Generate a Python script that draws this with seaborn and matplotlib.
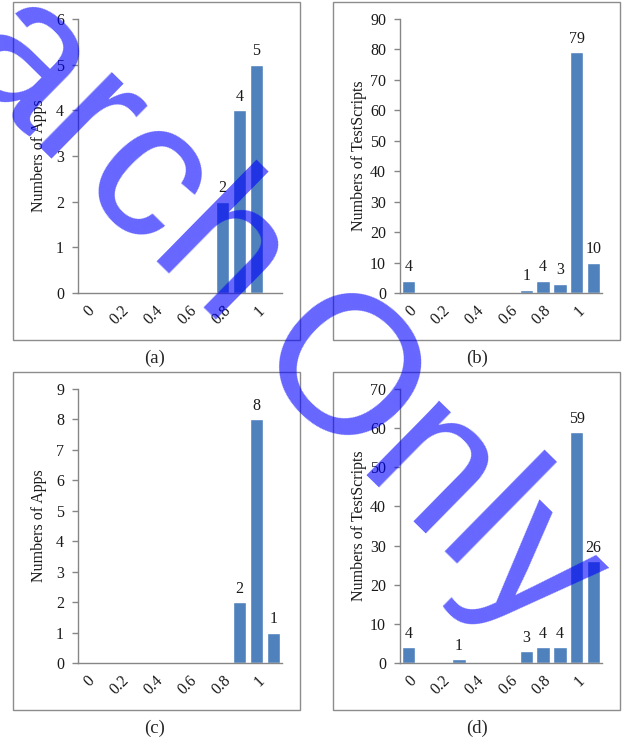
import matplotlib
matplotlib.use('Agg')
import matplotlib.pyplot as plt
import seaborn as sns
from matplotlib.patches import Rectangle

sns.set_style('white')
plt.rcParams['font.family'] = ['Liberation Serif', 'DejaVu Serif']

# categories of the histogram (one label shown every other bin)
categories = ['0', '0.1', '0.2', '0.3', '0.4', '0.5', '0.6', '0.7', '0.8', '0.9', '1', '1.1']
tick_labels = ['0', '', '0.2', '', '0.4', '', '0.6', '', '0.8', '', '1', '']

apps_a = [0, 0, 0, 0, 0, 0, 0, 0, 2, 4, 5, 0]
scripts_b = [4, 0, 0, 0, 0, 0, 0, 1, 4, 3, 79, 10]
apps_c = [0, 0, 0, 0, 0, 0, 0, 0, 0, 2, 8, 1]
scripts_d = [4, 0, 0, 1, 0, 0, 0, 3, 4, 4, 59, 26]

bar_col = '#4F81BD'
axis_col = '#868686'
txt_col = '#1a1a1a'
fs = 11.5
W, H = 622, 740

fig = plt.figure(figsize=(W / 100, H / 100), dpi=100)

# (values, ylabel, ymax, ystep, axes px box [left, top, right, bottom], frame px box, caption, caption px)
panels = [
    (apps_a, 'Numbers of Apps', 6, 1, [78, 19, 282, 293], [13, 2, 300, 340], '(a)', (155, 358)),
    (scripts_b, 'Numbers of TestScripts', 90, 10, [400, 19, 602, 293], [333, 2, 620, 340], '(b)', (477, 358)),
    (apps_c, 'Numbers of Apps', 9, 1, [78, 389, 282, 663], [13, 372, 300, 710], '(c)', (155, 728)),
    (scripts_d, 'Numbers of TestScripts', 70, 10, [400, 389, 602, 663], [333, 372, 620, 710], '(d)', (477, 728)),
]

for vals, ylab, ymax, ystep, box, frame, cap, cpos in panels:
    l, t, r, b = box
    ax = fig.add_axes([l / W, 1 - b / H, (r - l) / W, (b - t) / H])
    sns.barplot(x=categories, y=vals, color=bar_col, saturation=1, width=0.8, ax=ax)
    for cont in ax.containers:
        labs = [str(v) if v > 0 else '' for v in vals]
        ax.bar_label(cont, labels=labs, padding=4, fontsize=fs, color=txt_col)
    ax.set_xlim(-0.5, len(categories) - 0.5)
    ax.set_ylim(0, ymax)
    ax.set_yticks(range(0, ymax + 1, ystep))
    ax.set_xticks(range(len(categories)))
    ax.set_xticklabels(tick_labels, rotation=45, ha='right', rotation_mode='anchor')
    ax.tick_params(axis='x', length=0, pad=7, labelsize=fs, labelcolor=txt_col)
    ax.tick_params(axis='y', length=4, width=1, color=axis_col, direction='out',
                   pad=6, labelsize=fs, labelcolor=txt_col, left=True)
    for s in ['top', 'right']:
        ax.spines[s].set_visible(False)
    for s in ['left', 'bottom']:
        ax.spines[s].set_color(axis_col)
        ax.spines[s].set_linewidth(1)
    ax.set_ylabel(ylab, fontsize=fs, color=txt_col)
    ax.set_xlabel('')
    ax.yaxis.set_label_coords(-0.152 if ymax < 10 else -0.163, 0.5)

    fl, ft, fr, fb = frame
    fig.patches.append(Rectangle((fl / W, 1 - fb / H), (fr - fl) / W, (fb - ft) / H,
                                 transform=fig.transFigure, fill=False,
                                 edgecolor='#8c8c8c', linewidth=1))
    fig.text(cpos[0] / W, 1 - cpos[1] / H, cap, ha='center', va='center', fontsize=13.5)

# watermark, two words running diagonally over the figure
wm = dict(rotation=-44.5, rotation_mode='anchor', ha='center', va='center',
          fontsize=142, color='blue', alpha=0.6,
          family=['Liberation Sans', 'DejaVu Sans'], zorder=10)
fig.text(35 / W, 1 - 80 / H, 'Search', **wm)
fig.text(425 / W, 1 - 470 / H, 'Only', **wm)

fig.savefig('out.png', dpi=100)
